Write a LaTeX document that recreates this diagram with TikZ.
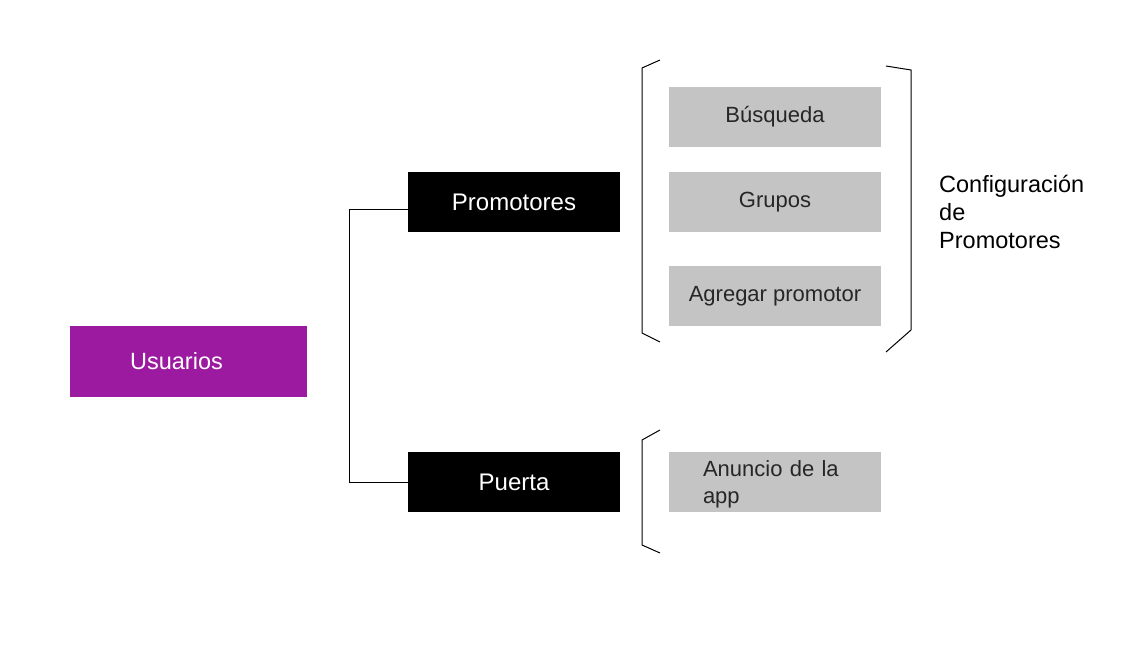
\documentclass[tikz,border=0pt]{standalone}
\usepackage{fontspec}
\setmainfont{Liberation Sans}
\definecolor{usupurple}{HTML}{9C1AA0}
\definecolor{boxgray}{HTML}{C4C4C4}
\tikzset{
  rolebox/.style={fill=black, text=white, minimum width=212pt, minimum height=60pt, font=\fontsize{24}{28}\selectfont},
  itembox/.style={fill=boxgray, text=black!85, minimum width=212pt, minimum height=60pt, font=\fontsize{22}{27}\selectfont},
  bracket/.style={line width=1pt, black}
}
\begin{document}
\begin{tikzpicture}[x=1pt, y=-1pt]
    \useasboundingbox (0,0) rectangle (1141,661);
    % Raiz
    \node[fill=usupurple, text=white, minimum width=237pt, minimum height=71pt, font=\fontsize{23.5}{28}\selectfont] (usuarios) at (188.5, 361.5) {\hspace*{-24pt}Usuarios};

    % Roles
    \node[rolebox] (promo) at (514, 202) {Promotores};
    \node[rolebox] (puerta) at (514, 482) {Puerta};

    % Union
    \draw[line width=1pt] ([yshift=-7pt]promo.west) -- ++(-58,0) |- (puerta.west);

    % Opciones de promotores
    \node[itembox] (busqueda) at (775, 117) {Búsqueda};
    \node[itembox] (grupos) at (775, 202) {Grupos};
    \node[itembox] (agregar) at (775, 296) {Agregar promotor};

    % Opciones de puerta
    \node[itembox, text width=144pt, inner xsep=34pt, align=left] (anuncio) at (775, 482) {\rule{0pt}{20pt}Anuncio de la\\app};

    % Corchetes
    \draw[bracket] (660, 60) -- (642, 68) -- (642, 333) -- (660, 342);
    \draw[bracket] (886, 66) -- (911, 70) -- (911, 330) -- (886, 352);
    \draw[bracket] (660, 430) -- (642, 440) -- (642, 545) -- (660, 553);

    % Titulo del grupo
    \node[anchor=north west, align=left, inner sep=0pt, font=\fontsize{23.5}{28}\selectfont] (config) at (939, 175) {Configuración\\de\\Promotores};
\end{tikzpicture}
\end{document}
